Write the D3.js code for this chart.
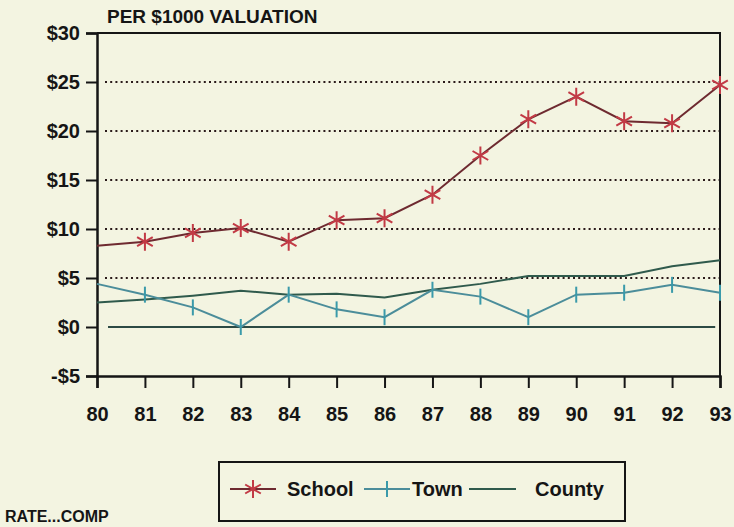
<!DOCTYPE html>
<html>
<head>
<meta charset="utf-8">
<script src="https://cdn.jsdelivr.net/npm/d3@7"></script>
<style>
  body { margin: 0; background: #f3f4e1; }
  text { font-family: "Liberation Sans", Arial, Helvetica, sans-serif; font-weight: bold; fill: #151515; }
</style>
</head>
<body>
<div id="chart"></div>
<script>
// data
var years = [80, 81, 82, 83, 84, 85, 86, 87, 88, 89, 90, 91, 92, 93];
var school = [8.3, 8.7, 9.6, 10.1, 8.7, 10.9, 11.1, 13.5, 17.5, 21.2, 23.5, 21.0, 20.8, 24.7];
var town = [4.4, 3.3, 2.0, 0.0, 3.3, 1.8, 1.0, 3.8, 3.1, 1.0, 3.3, 3.5, 4.3, 3.5];
var county = [2.5, 2.8, 3.2, 3.7, 3.3, 3.4, 3.0, 3.8, 4.4, 5.2, 5.2, 5.2, 6.2, 6.8];
var yTicks = [-5, 0, 5, 10, 15, 20, 25, 30];
var gridValues = [5, 10, 15, 20, 25];

var W = 734, H = 527;
var margin = { top: 33, right: 14, bottom: 151, left: 97 };

var svg = d3.select("#chart").append("svg")
    .attr("width", W).attr("height", H);

svg.append("rect").attr("width", W).attr("height", H).attr("fill", "#f3f4e1");

var x = d3.scaleLinear().domain([80, 93]).range([margin.left, W - margin.right]);
var y = d3.scaleLinear().domain([-5, 30]).range([H - margin.bottom, margin.top]);

var x0 = x.range()[0], x1 = x.range()[1], y0 = y.range()[0], y1 = y.range()[1];

// dotted grid lines
svg.selectAll(".grid").data(gridValues).enter().append("line")
    .attr("x1", x0 + 8).attr("x2", x1)
    .attr("y1", function(d) { return y(d); }).attr("y2", function(d) { return y(d); })
    .attr("stroke", "#2a1a1a").attr("stroke-width", 2)
    .attr("stroke-dasharray", "2,3.2");

// frame top + right
svg.append("path")
    .attr("d", "M" + x0 + "," + y1 + "H" + x1 + "V" + y0)
    .attr("fill", "none").attr("stroke", "#151515").attr("stroke-width", 2);

// y axis
var yAxis = d3.axisLeft(y).tickValues(yTicks).tickSize(11).tickPadding(6)
    .tickFormat(function(d) { return d < 0 ? "-$" + Math.abs(d) : "$" + d; });
var gy = svg.append("g").attr("transform", "translate(" + x0 + ",0)").call(yAxis);
gy.select(".domain").attr("stroke", "#151515").attr("stroke-width", 2.5);
gy.selectAll(".tick line").attr("stroke", "#151515").attr("stroke-width", 2);
gy.selectAll("text").style("font-size", "20px").attr("fill", "#151515");

// x axis
var xAxis = d3.axisBottom(x).tickValues(years).tickSize(12).tickPadding(19)
    .tickFormat(d3.format("d"));
var gx = svg.append("g").attr("transform", "translate(0," + y0 + ")").call(xAxis);
gx.select(".domain").attr("stroke", "#151515").attr("stroke-width", 2.5);
gx.selectAll(".tick line").attr("stroke", "#151515").attr("stroke-width", 2);
gx.selectAll("text").style("font-size", "20px").attr("fill", "#151515");

// zero reference line
svg.append("line")
    .attr("x1", x(80.23)).attr("x2", x(92.9))
    .attr("y1", y(0)).attr("y2", y(0))
    .attr("stroke", "#2c4a44").attr("stroke-width", 1.8);

var line = d3.line()
    .x(function(d, i) { return x(years[i]); })
    .y(function(d) { return y(d); });

// county
svg.append("path").datum(county).attr("d", line)
    .attr("fill", "none").attr("stroke", "#2f5a4c").attr("stroke-width", 2);

// town
svg.append("path").datum(town).attr("d", line)
    .attr("fill", "none").attr("stroke", "#4b8d9a").attr("stroke-width", 2);
svg.selectAll(".tm").data(town.slice(1)).enter().append("line")
    .attr("x1", function(d, i) { return x(years[i + 1]); })
    .attr("x2", function(d, i) { return x(years[i + 1]); })
    .attr("y1", function(d) { return y(d) - 8; })
    .attr("y2", function(d) { return y(d) + 8; })
    .attr("stroke", "#3a9aaa").attr("stroke-width", 2);

// school
svg.append("path").datum(school).attr("d", line)
    .attr("fill", "none").attr("stroke", "#6e2a30").attr("stroke-width", 2);

function asterisk(g, r) {
  var a = r * 0.87, b = r * 0.5;
  g.append("path")
    .attr("d", "M0," + (-r) + "V" + r +
               "M" + (-a) + "," + (-b) + "L" + a + "," + b +
               "M" + (-a) + "," + b + "L" + a + "," + (-b))
    .attr("fill", "none").attr("stroke", "#c23a45").attr("stroke-width", 2);
}
svg.selectAll(".sm").data(school.slice(1)).enter().append("g")
    .attr("transform", function(d, i) { return "translate(" + x(years[i + 1]) + "," + y(d) + ")"; })
    .each(function() { asterisk(d3.select(this), 9); });

// title
svg.append("text").attr("x", 107).attr("y", 23).style("font-size", "19px")
    .text("PER $1000 VALUATION");

svg.append("text").attr("x", 5).attr("y", 522).style("font-size", "16px")
    .text("RATE...COMP");

// legend
var lg = svg.append("g");
lg.append("rect").attr("x", 219).attr("y", 462).attr("width", 406).attr("height", 59)
    .attr("fill", "none").attr("stroke", "#151515").attr("stroke-width", 2);

lg.append("line").attr("x1", 230).attr("x2", 276).attr("y1", 489).attr("y2", 489)
    .attr("stroke", "#6e2a30").attr("stroke-width", 2);
asterisk(lg.append("g").attr("transform", "translate(253,489)"), 9);
lg.append("text").attr("x", 287).attr("y", 496).style("font-size", "20px").text("School");

lg.append("line").attr("x1", 364).attr("x2", 410).attr("y1", 489).attr("y2", 489)
    .attr("stroke", "#4b8d9a").attr("stroke-width", 2);
lg.append("line").attr("x1", 387).attr("x2", 387).attr("y1", 481).attr("y2", 497)
    .attr("stroke", "#3a9aaa").attr("stroke-width", 2);
lg.append("text").attr("x", 412).attr("y", 496).style("font-size", "20px").text("Town");

lg.append("line").attr("x1", 469).attr("x2", 516).attr("y1", 489).attr("y2", 489)
    .attr("stroke", "#2f5a4c").attr("stroke-width", 2);
lg.append("text").attr("x", 535).attr("y", 496).style("font-size", "20px").text("County");
</script>
</body>
</html>
